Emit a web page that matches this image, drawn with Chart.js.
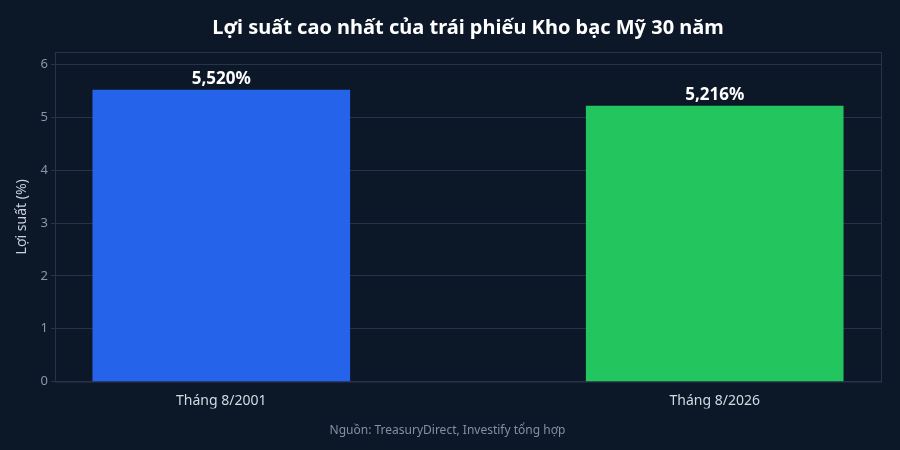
<!DOCTYPE html>
<html>
<head>
<meta charset="utf-8">
<script src="https://cdn.jsdelivr.net/npm/chart.js@4.4.1/dist/chart.umd.min.js"></script>
<style>
  html,body{margin:0;padding:0;background:#0c1727;}
  #wrap{width:900px;height:450px;}
</style>
</head>
<body>
<div id="wrap"><canvas id="c"></canvas></div>
<script>
const categories = ['Tháng 8/2001', 'Tháng 8/2026'];
const yields = [5.520, 5.216];
const barColors = ['#2563eb', '#22c55e'];
const yTicks = [0, 1, 2, 3, 4, 5, 6];

const gridColor = '#26334a';
const fmt = v => v.toFixed(3).replace('.', ',') + '%';

// value labels above bars
const valueLabels = {
  id: 'valueLabels',
  afterDatasetsDraw(chart){
    const ctx = chart.ctx;
    const meta = chart.getDatasetMeta(0);
    ctx.save();
    ctx.font = 'bold 17px "Noto Sans"';
    ctx.fillStyle = '#ffffff';
    ctx.textAlign = 'center';
    ctx.textBaseline = 'bottom';
    meta.data.forEach((bar, i) => {
      ctx.fillText(fmt(yields[i]), bar.x, bar.y - 2);
    });
    ctx.restore();
  }
};

// frame round the plot
const plotFrame = {
  id: 'plotFrame',
  beforeDatasetsDraw(chart){
    const {ctx, chartArea:a} = chart;
    ctx.save();
    ctx.strokeStyle = gridColor;
    ctx.lineWidth = 1;
    ctx.strokeRect(a.left + 0.5, a.top + 0.5, a.right - a.left, a.bottom - a.top);
    ctx.restore();
  }
};

new Chart(document.getElementById('c'), {
  type: 'bar',
  data: {
    datasets: [{
      data: yields.map((v, i) => ({x: i, y: v})),
      backgroundColor: barColors,
      borderWidth: 0,
      barThickness: 257
    }]
  },
  plugins: [plotFrame, valueLabels],
  options: {
    responsive: true,
    maintainAspectRatio: false,
    animation: false,
    layout: {padding: {left: 14, right: 19, top: 0, bottom: 0}},
    plugins: {
      legend: {display: false},
      tooltip: {enabled: false},
      title: {
        display: true,
        fullSize: false,
        text: 'Lợi suất cao nhất của trái phiếu Kho bạc Mỹ 30 năm',
        color: '#ffffff',
        font: {family: 'Noto Sans', size: 20, weight: 'bold'},
        padding: {top: 16, bottom: 12}
      },
      subtitle: {
        display: true,
        position: 'bottom',
        text: 'Nguồn: TreasuryDirect, Investify tổng hợp',
        color: '#8490a3',
        font: {family: 'Noto Sans', size: 12},
        padding: {top: 15, bottom: 12}
      }
    },
    scales: {
      x: {
        type: 'linear',
        offset: false,
        min: -0.337,
        max: 1.337,
        afterBuildTicks: s => { s.ticks = categories.map((_, i) => ({value: i})); },
        afterFit: s => { s.height = 27; },
        grid: {display: false},
        border: {display: false},
        ticks: {
          color: '#d4dae3',
          font: {family: 'Noto Sans', size: 14},
          padding: 3,
          callback: v => categories[v]
        }
      },
      y: {
        min: 0,
        max: 6.24,
        afterBuildTicks: s => { s.ticks = yTicks.map(v => ({value: v})); },
        afterFit: s => { s.width = 41; },
        grid: {color: gridColor, tickLength: 4, tickColor: gridColor},
        border: {display: false},
        ticks: {
          color: '#8b95a7',
          font: {family: 'Noto Sans', size: 13},
          padding: 3
        },
        title: {
          display: true,
          text: 'Lợi suất (%)',
          color: '#c9d1dc',
          font: {family: 'Noto Sans', size: 14},
          padding: {top: 0, bottom: 0}
        }
      }
    }
  }
});
</script>
</body>
</html>
